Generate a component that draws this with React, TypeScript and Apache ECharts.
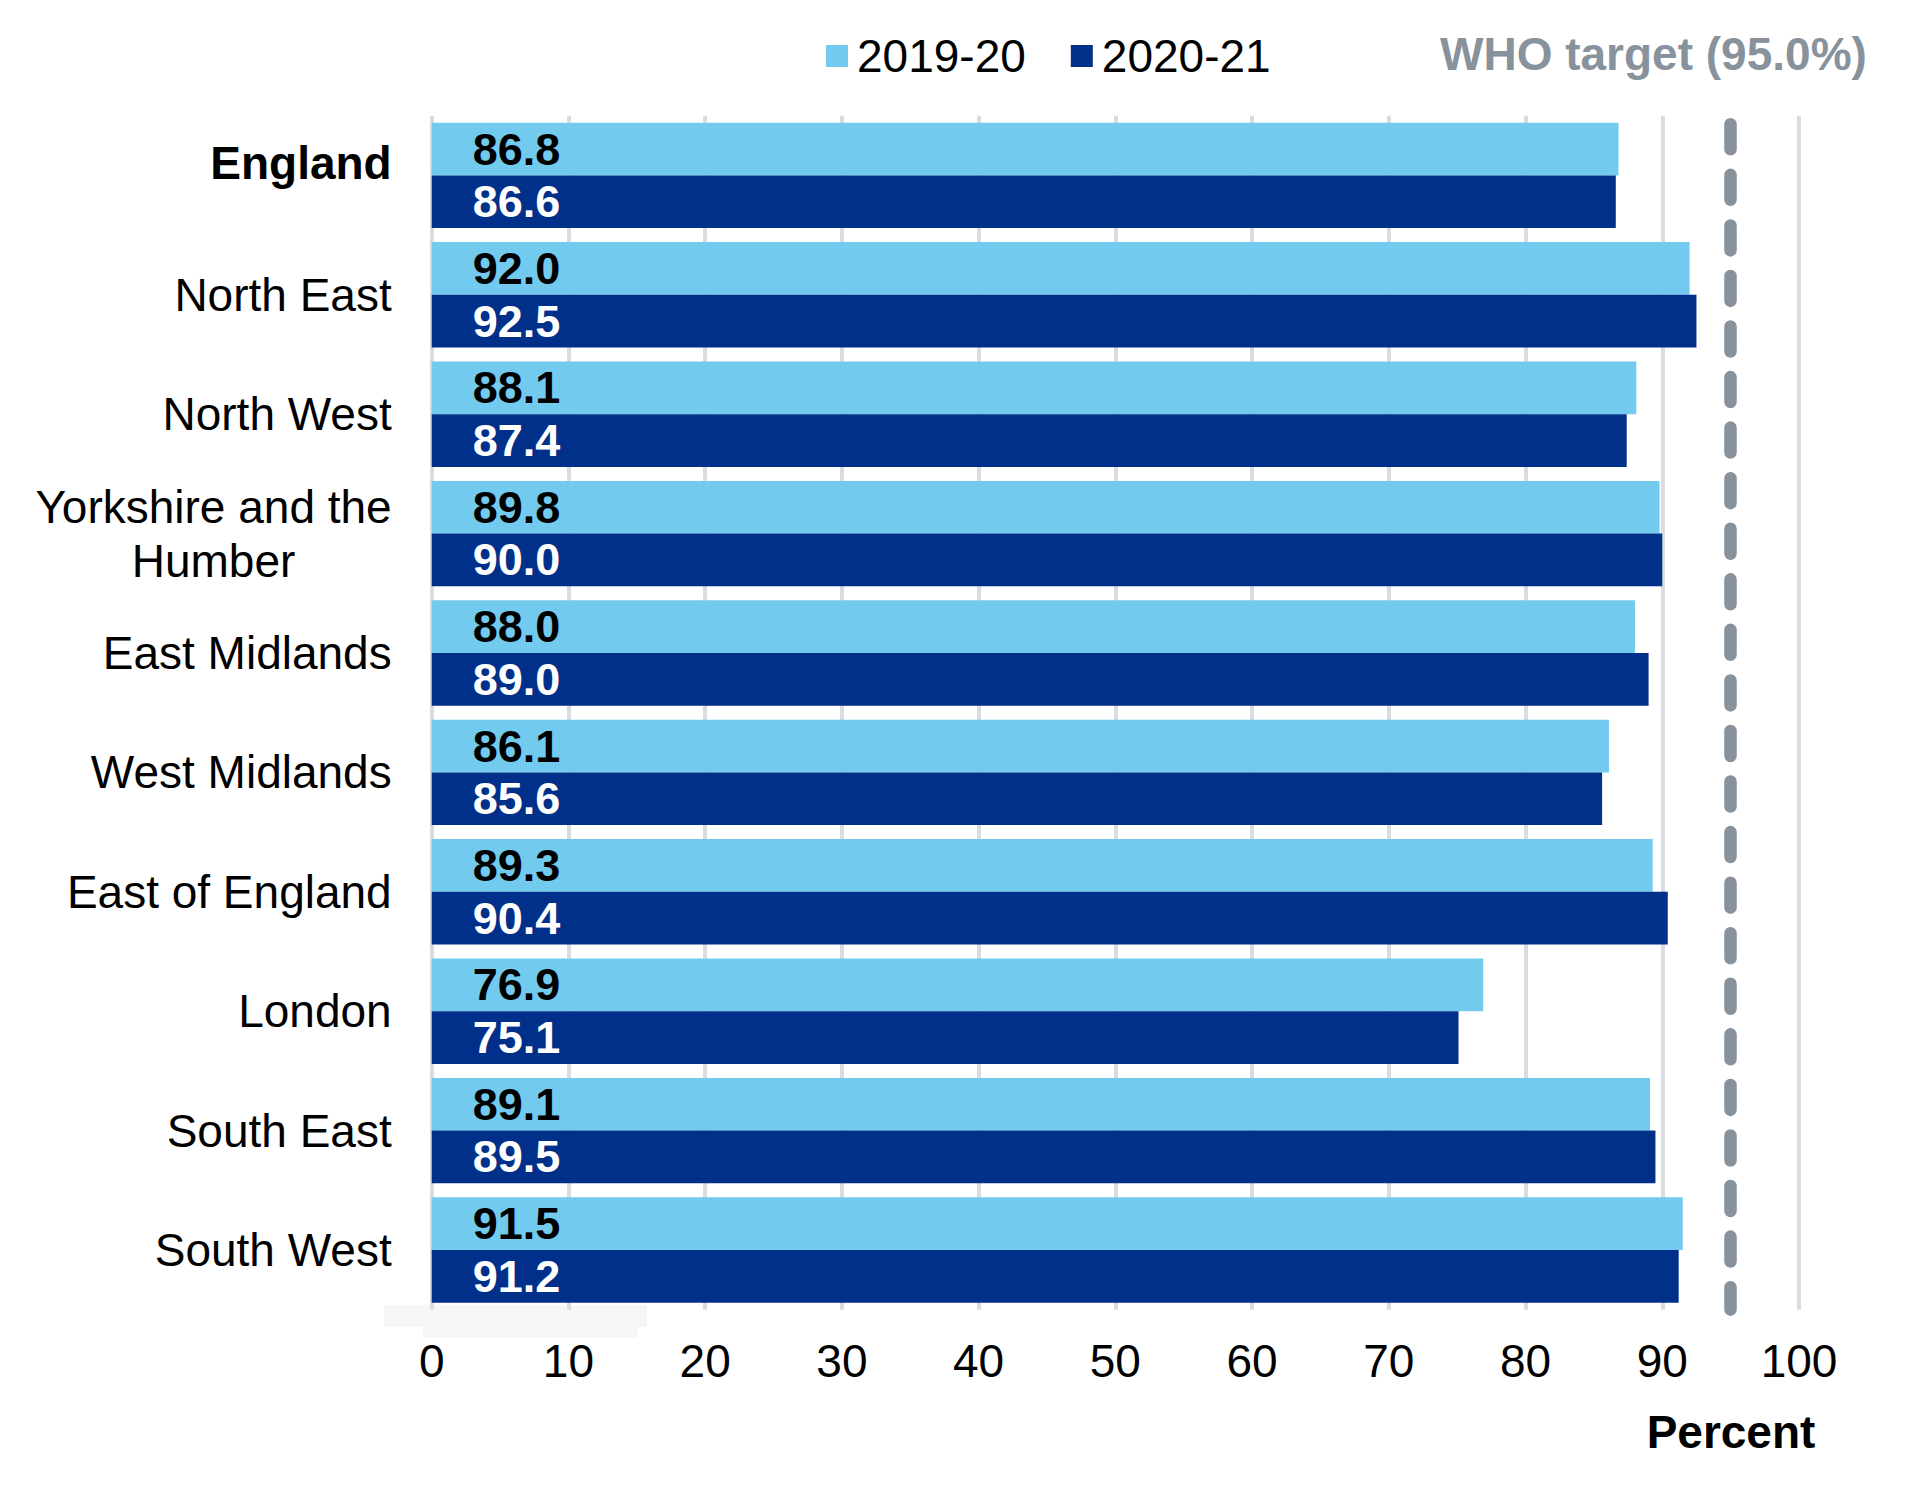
import React, { useEffect, useRef } from "react";
import * as echarts from "echarts";

// Regions listed top to bottom
const regions = [
  "England",
  "North East",
  "North West",
  "Yorkshire and the\nHumber",
  "East Midlands",
  "West Midlands",
  "East of England",
  "London",
  "South East",
  "South West",
];

const coverage2019 = [86.8, 92.0, 88.1, 89.8, 88.0, 86.1, 89.3, 76.9, 89.1, 91.5];
const coverage2020 = [86.6, 92.5, 87.4, 90.0, 89.0, 85.6, 90.4, 75.1, 89.5, 91.2];

const seriesNames = ["2019-20", "2020-21"];
const targetValue = 95.0;
const targetLabel = "WHO target (95.0%)";
const axisTitle = "Percent";
const xTicks = { min: 0, max: 100, interval: 10 };

const FONT = "'Liberation Sans', Arial, Helvetica, sans-serif";
const FS = 46;
const BAR_FS = 45;
const LIGHT = "#72CBEE";
const DARK = "#00308A";
const GRID = "#D9DCE1";
const TARGET = "#87929C";

export default function App() {
  const ref = useRef<HTMLDivElement>(null);

  useEffect(() => {
    if (!ref.current) return;
    const chart = echarts.init(ref.current, undefined, { renderer: "svg" });

    const barLabel = (color: string) => ({
      show: true,
      position: "insideLeft" as const,
      offset: [36, 0],
      color,
      fontFamily: FONT,
      fontSize: BAR_FS,
      fontWeight: "bold" as const,
      formatter: (p: any) => Number(p.value).toFixed(1),
    });

    chart.setOption({
      animation: false,
      textStyle: { fontFamily: FONT },
      grid: { left: 431.7, right: 124, top: 115.7, bottom: 184.3, containLabel: false },
      legend: {
        data: seriesNames,
        left: 821,
        top: 25,
        icon: "rect",
        itemWidth: 22,
        itemHeight: 22,
        itemGap: 45,
        textStyle: { fontFamily: FONT, fontSize: FS, color: "#000", lineHeight: 52, padding: [0, 0, 0, 4] },
      },
      xAxis: {
        type: "value",
        min: xTicks.min,
        max: xTicks.max,
        interval: xTicks.interval,
        axisLine: { show: false },
        axisTick: { show: false },
        axisLabel: { color: "#000", fontSize: FS, fontFamily: FONT, margin: 28 },
        splitLine: { show: true, lineStyle: { color: GRID, width: 4 } },
      },
      yAxis: {
        type: "category",
        data: regions,
        inverse: true,
        axisLine: { show: false },
        axisTick: { show: false },
        axisLabel: {
          color: "#000",
          fontSize: FS,
          fontFamily: FONT,
          margin: 40,
          formatter: (v: string) => {
            if (v === "England") return "{b|England}";
            if (v.includes("\n")) return v.split("\n").map((s) => `{c|${s}}`).join("\n");
            return v;
          },
          rich: {
            b: {
              fontWeight: "bold",
              fontSize: FS,
              fontFamily: FONT,
              color: "#000",
              padding: [0, 0, 24, 0],
            },
            c: { align: "center", fontSize: FS, fontFamily: FONT, color: "#000", lineHeight: 54 },
          },
        },
        splitLine: { show: false },
      },
      series: [
        {
          name: seriesNames[0],
          type: "bar",
          data: coverage2019,
          barWidth: 52.7,
          barGap: "0%",
          itemStyle: { color: LIGHT },
          label: barLabel("#000"),
          markLine: {
            silent: true,
            symbol: ["none", "none"],
            label: { show: false },
            lineStyle: {
              color: TARGET,
              width: 12.5,
              type: [25, 25.56],
              dashOffset: 41.96,
              cap: "round",
              opacity: 1,
            },
            emphasis: { disabled: true },
            data: [{ xAxis: targetValue }],
          },
        },
        {
          name: seriesNames[1],
          type: "bar",
          data: coverage2020,
          barWidth: 52.7,
          barGap: "0%",
          itemStyle: { color: DARK },
          label: barLabel("#fff"),
        },
      ],
      graphic: [
        {
          type: "text",
          left: 1440,
          top: 31,
          style: { text: targetLabel, fill: TARGET, fontFamily: FONT, fontSize: FS, fontWeight: "bold" },
        },
        {
          type: "text",
          style: {
            text: axisTitle,
            x: 1731,
            y: 1432,
            align: "center",
            verticalAlign: "middle",
            fill: "#000",
            fontFamily: FONT,
            fontSize: FS,
            fontWeight: "bold",
          },
        },
        {
          type: "rect",
          shape: { x: 384, y: 1305, width: 263, height: 22 },
          style: { fill: "#F6F6F6" },
        },
        {
          type: "rect",
          shape: { x: 423, y: 1327, width: 215, height: 11 },
          style: { fill: "#F6F6F6" },
        },
      ],
    });

    return () => chart.dispose();
  }, []);

  return (
    <div
      ref={ref}
      style={{ position: "absolute", left: 0, top: 0, width: 1923, height: 1494, background: "#fff" }}
    />
  );
}
